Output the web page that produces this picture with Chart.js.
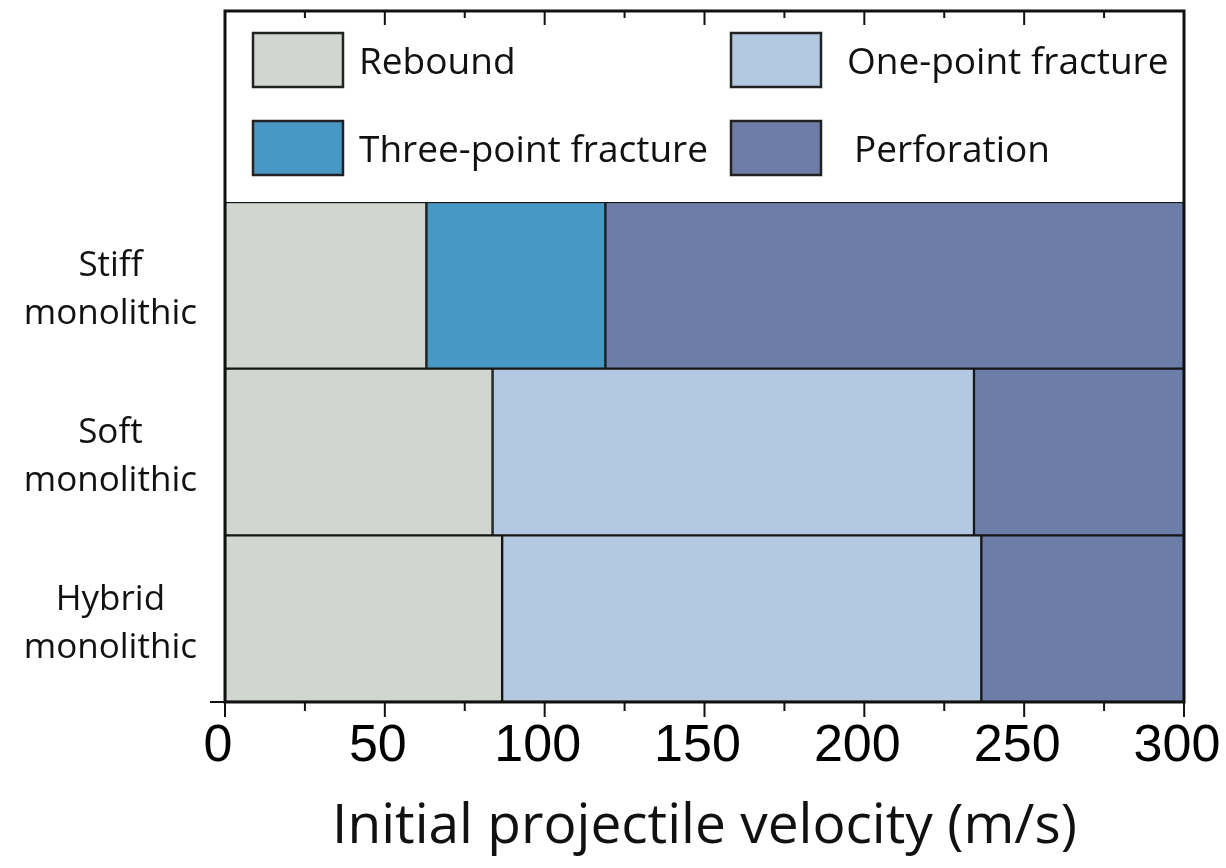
<!DOCTYPE html>
<html>
<head>
<meta charset="utf-8">
<title>Impact response vs. projectile velocity</title>
<script src="https://cdn.jsdelivr.net/npm/chart.js@4.4.1/dist/chart.umd.min.js"></script>
<style>
  html, body { margin: 0; padding: 0; background: #fff; }
  #wrap { width: 1226px; height: 868px; position: relative; }
</style>
</head>
<body>
<div id="wrap"><canvas id="impactChart"></canvas></div>
<script>
var materials = [['Stiff', 'monolithic'], ['Soft', 'monolithic'], ['Hybrid', 'monolithic']];

// width of each velocity band (m/s), stacked from 0 to 300
var rebound = [63, 83.7, 86.7];
var threePoint = [56, null, null];
var onePoint = [null, 150.6, 149.9];
var perforation = [181, 65.7, 63.4];

var velocityTicks = [0, 50, 100, 150, 200, 250, 300];

(function () {
  var labelFont = '"Open Sans", "DejaVu Sans", sans-serif';

  // outer box, tick marks on both long edges
  var framePlugin = {
    id: 'frame',
    afterDraw: function (chart) {
      var ctx = chart.ctx;
      var area = chart.chartArea;
      var x = chart.scales.x;
      var top = 11;

      ctx.save();
      ctx.strokeStyle = '#111';
      ctx.lineWidth = 3;
      ctx.strokeRect(area.left, top, area.right - area.left, area.bottom - top);

      ctx.lineWidth = 2;
      ctx.beginPath();
      x.ticks.forEach(function (t) {
        var px = x.getPixelForValue(t.value);
        var major = velocityTicks.indexOf(t.value) !== -1;
        ctx.moveTo(px, area.bottom);
        ctx.lineTo(px, area.bottom + (major ? 15 : 9));
        if (t.value > x.min && t.value < x.max) {
          ctx.moveTo(px, top);
          ctx.lineTo(px, top + (major ? 14 : 7));
        }
      });
      ctx.moveTo(area.left - 15, area.bottom);
      ctx.lineTo(area.left, area.bottom);
      ctx.stroke();
      ctx.restore();
    }
  };

  // two-column key inside the box, above the bars
  var legendGap = [16, 16, 26, 33];
  var keyPlugin = {
    id: 'boxKey',
    afterDraw: function (chart) {
      var ctx = chart.ctx;
      var area = chart.chartArea;
      var colX = [area.left + 28, area.left + 506];
      var rowY = [33, 121];

      ctx.save();
      ctx.font = '37px ' + labelFont;
      ctx.textBaseline = 'middle';
      ctx.textAlign = 'left';
      chart.data.datasets.forEach(function (ds, i) {
        var bx = colX[Math.floor(i / 2)];
        var by = rowY[i % 2];
        ctx.fillStyle = ds.backgroundColor;
        ctx.fillRect(bx, by, 90, 54);
        ctx.strokeStyle = '#222';
        ctx.lineWidth = 2.5;
        ctx.strokeRect(bx, by, 90, 54);
        ctx.fillStyle = '#111';
        ctx.fillText(ds.label, bx + 90 + legendGap[i], by + 30);
      });
      ctx.restore();
    }
  };

  function bandSet(label, values, color) {
    return {
      label: label,
      data: values,
      backgroundColor: color,
      borderColor: '#151515',
      borderWidth: 1.5,
      borderSkipped: false,
      categoryPercentage: 1,
      barPercentage: 1
    };
  }

  function draw() {
    var el = document.getElementById('impactChart');
    new Chart(el.getContext('2d'), {
      type: 'bar',
      data: {
        labels: materials,
        datasets: [
          bandSet('Rebound', rebound, '#d1d6d1'),
          bandSet('Three-point fracture', threePoint, '#4898c5'),
          bandSet('One-point fracture', onePoint, '#b3c9e1'),
          bandSet('Perforation', perforation, '#6c7ea7')
        ]
      },
      options: {
        indexAxis: 'y',
        responsive: true,
        maintainAspectRatio: false,
        animation: false,
        layout: {
          padding: { top: 202, right: 42, left: 0, bottom: 0 }
        },
        plugins: {
          legend: { display: false },
          tooltip: { enabled: false }
        },
        scales: {
          x: {
            stacked: true,
            min: 0,
            max: 300,
            grid: { display: false },
            border: { display: false },
            afterFit: function (scale) {
              scale.height = 166;
              // let the end labels hang past the box instead of shrinking it
              scale.paddingLeft = 0;
              scale.paddingRight = 0;
            },
            ticks: {
              stepSize: 25,
              autoSkip: false,
              maxRotation: 0,
              padding: 5,
              labelOffset: -7,
              color: '#000',
              font: { family: '"Liberation Sans", Arial, sans-serif', size: 52 },
              callback: function (v) {
                return velocityTicks.indexOf(v) !== -1 ? String(v) : '';
              }
            },
            title: {
              display: true,
              text: 'Initial projectile velocity (m/s)',
              color: '#111',
              font: { family: labelFont, size: 55 },
              padding: { top: 0, bottom: 8 }
            }
          },
          y: {
            stacked: true,
            grid: { display: false },
            border: { display: false },
            afterFit: function (scale) { scale.width = 225; },
            ticks: {
              crossAlign: 'center',
              padding: 20,
              labelOffset: 5,
              color: '#111',
              font: { family: labelFont, size: 35, lineHeight: 1.37 }
            }
          }
        }
      },
      plugins: [framePlugin, keyPlugin]
    });
  }

  var wanted = ['37px "Open Sans"', '52px "Liberation Sans"'];
  if (document.fonts && document.fonts.load) {
    Promise.all(wanted.map(function (f) { return document.fonts.load(f); }))
      .then(draw, draw);
  } else {
    draw();
  }
})();
</script>
</body>
</html>
